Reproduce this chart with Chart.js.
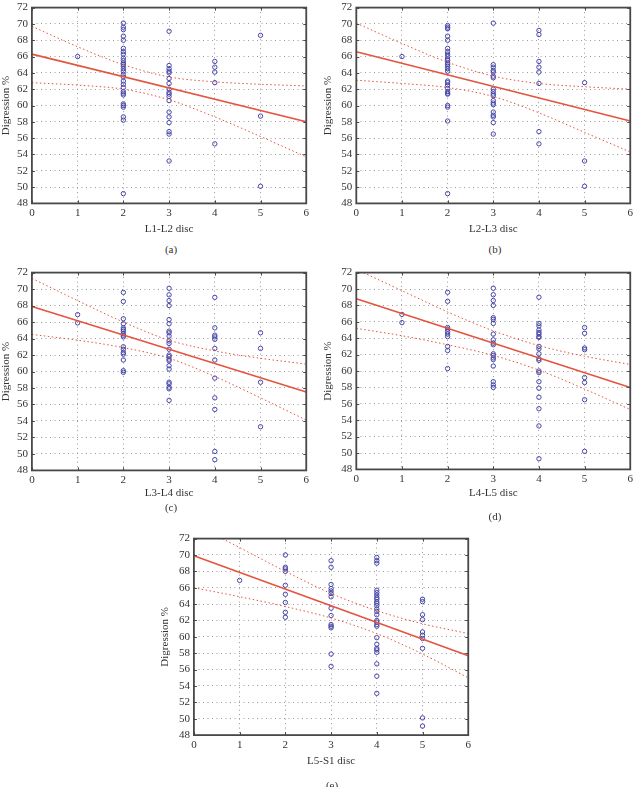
<!DOCTYPE html>
<html>
<head>
<meta charset="utf-8">
<script src="https://cdn.jsdelivr.net/npm/chart.js@4.4.0/dist/chart.umd.min.js"></script>
<style>
  body { margin: 0; background: #fff; width: 634px; height: 787px; overflow: hidden; position: relative; }
  canvas { position: absolute; }
  .cap { position: absolute; font: 11px "Liberation Serif", serif; color: #333; transform: translate(-50%, -50%); }
</style>
</head>
<body>
<script>
// axis ticks
const gradeTicks = [0, 1, 2, 3, 4, 5, 6];
const digressionTicks = [48, 50, 52, 54, 56, 58, 60, 62, 64, 66, 68, 70, 72];

// digression % per degeneration grade (index = grade)
const l1l2ByGrade = [
  [],
  [66.0],
  [70.1, 69.6, 69.3, 68.5, 68.0, 67.0, 66.6, 66.3, 65.8, 65.5, 65.2, 65.0, 64.8, 64.5, 64.2, 63.8, 63.5, 63.0, 62.6, 62.2, 61.7, 61.5, 61.3, 60.2, 60.0, 59.8, 58.6, 58.2, 49.2],
  [69.1, 64.9, 64.5, 64.2, 64.0, 63.3, 62.7, 62.0, 61.6, 61.4, 61.1, 60.6, 59.2, 58.6, 57.9, 56.8, 56.5, 53.2],
  [65.4, 64.7, 64.1, 62.8, 55.3],
  [68.6, 58.7, 50.1]
];
const l2l3ByGrade = [
  [],
  [66.0],
  [69.8, 69.6, 69.4, 68.5, 68.0, 67.0, 66.6, 66.3, 66.0, 65.7, 65.5, 65.2, 65.0, 64.8, 64.5, 64.2, 63.0, 62.8, 62.5, 62.1, 61.7, 61.5, 61.4, 60.0, 59.8, 58.1, 49.2],
  [70.1, 65.0, 64.7, 64.3, 64.1, 63.6, 63.4, 62.0, 61.7, 61.4, 61.2, 60.6, 60.3, 60.1, 59.2, 58.8, 58.6, 57.9, 56.5],
  [69.2, 68.7, 65.4, 64.7, 64.1, 62.7, 56.8, 55.3],
  [62.8, 53.2, 50.1]
];
const l3l4ByGrade = [
  [],
  [66.9, 65.9],
  [69.6, 68.5, 66.4, 65.8, 65.3, 65.1, 64.9, 64.6, 64.4, 64.2, 63.0, 62.7, 62.3, 62.1, 61.4, 60.1, 59.9],
  [70.1, 69.3, 68.6, 68.0, 66.3, 65.8, 64.9, 64.7, 64.3, 63.7, 63.4, 62.7, 62.0, 61.8, 61.5, 61.3, 60.7, 60.3, 58.7, 58.5, 58.1, 57.9, 56.5],
  [69.0, 65.3, 64.4, 64.2, 63.9, 62.8, 61.4, 59.2, 56.8, 55.4, 50.3, 49.3],
  [64.7, 62.8, 58.7, 53.3]
];
const l4l5ByGrade = [
  [],
  [66.9, 65.9],
  [69.6, 68.5, 65.3, 65.1, 64.8, 64.5, 64.2, 63.0, 62.5, 60.3],
  [70.1, 69.3, 68.6, 68.0, 66.5, 66.3, 65.8, 64.5, 63.8, 63.4, 63.2, 62.1, 61.9, 61.6, 61.4, 60.6, 58.7, 58.3, 58.0],
  [69.0, 65.8, 65.5, 65.0, 64.7, 64.5, 64.2, 64.1, 63.0, 62.7, 62.1, 61.5, 61.3, 60.0, 59.8, 58.7, 57.9, 56.8, 55.4, 53.3, 49.3],
  [65.3, 64.6, 62.8, 62.6, 59.2, 58.6, 56.5, 50.2]
];
const l5s1ByGrade = [
  [],
  [66.9],
  [70.0, 68.5, 68.3, 68.0, 66.3, 65.2, 64.2, 63.0, 62.4],
  [69.3, 68.5, 66.4, 65.9, 65.6, 65.3, 64.9, 63.5, 62.6, 61.5, 61.3, 61.1, 57.9, 56.4],
  [69.7, 69.3, 69.0, 65.7, 65.4, 65.1, 64.8, 64.6, 64.3, 64.1, 63.8, 63.4, 63.1, 62.7, 62.0, 61.8, 61.5, 61.3, 59.9, 59.1, 58.6, 58.4, 58.1, 56.7, 55.2, 53.1],
  [64.6, 64.3, 62.7, 62.1, 60.6, 60.2, 59.8, 58.6, 50.1, 49.1]
];

// regression line at grade 0 and 6, 95% bands read at grades 0..6
const l1l2Fit = [66.3, 58.0];
const l1l2Upper = [69.7, 67.2, 65.0, 63.5, 62.9, 62.6, 62.4];
const l1l2Lower = [62.8, 62.5, 62.0, 60.7, 58.6, 56.2, 53.7];
const l2l3Fit = [66.6, 58.1];
const l2l3Upper = [70.1, 67.6, 65.3, 63.6, 62.7, 62.3, 62.0];
const l2l3Lower = [63.1, 62.7, 62.2, 61.1, 59.1, 56.7, 54.3];
const l3l4Fit = [67.9, 57.5];
const l3l4Upper = [71.3, 68.6, 66.0, 63.8, 62.5, 61.6, 60.9];
const l3l4Lower = [64.5, 63.8, 62.9, 61.6, 59.4, 56.8, 54.1];
const l4l5Fit = [68.8, 58.0];
const l4l5Upper = [72.4, 69.8, 67.2, 64.9, 63.1, 61.8, 60.8];
const l4l5Lower = [65.2, 64.3, 63.2, 61.9, 60.1, 57.8, 55.3];
const l5s1Fit = [69.9, 57.7];
const l5s1Upper = [73.8, 70.9, 68.0, 65.3, 63.2, 61.6, 60.4];
const l5s1Lower = [66.0, 64.9, 63.7, 62.3, 60.4, 57.9, 55.0];

const discLabels = ["L1-L2 disc", "L2-L3 disc", "L3-L4 disc", "L4-L5 disc", "L5-S1 disc"];
const captions = ["(a)", "(b)", "(c)", "(d)", "(e)"];

// plot box placement of each panel in the page
const panels = [
  { L: 32.3, R: 307.3, T: 4.7, B: 203, yTitleX: 7, xTitleY: 229, capX: 171, capY: 249, byGrade: l1l2ByGrade, fit: l1l2Fit, upper: l1l2Upper, lower: l1l2Lower },
  { L: 356.7, R: 631, T: 4.7, B: 203, yTitleX: 329, xTitleY: 229, capX: 495, capY: 249, byGrade: l2l3ByGrade, fit: l2l3Fit, upper: l2l3Upper, lower: l2l3Lower },
  { L: 32.3, R: 307.3, T: 270, B: 470, yTitleX: 7, xTitleY: 493, capX: 171, capY: 507, byGrade: l3l4ByGrade, fit: l3l4Fit, upper: l3l4Upper, lower: l3l4Lower },
  { L: 356.7, R: 631, T: 270, B: 469, yTitleX: 329, xTitleY: 493, capX: 495, capY: 516, byGrade: l4l5ByGrade, fit: l4l5Fit, upper: l4l5Upper, lower: l4l5Lower },
  { L: 194.3, R: 469.3, T: 536, B: 734.7, yTitleX: 166, xTitleY: 761, capX: 332, capY: 785, byGrade: l5s1ByGrade, fit: l5s1Fit, upper: l5s1Upper, lower: l5s1Lower }
];

Chart.defaults.font.family = '"Liberation Serif", "Times New Roman", serif';
Chart.defaults.color = "#333";

const lineRed = "#e4543e";
const dotBlue = "#4646a8";

// box round the plot with short inward ticks, like the original
const frame = {
  id: "frame",
  afterDraw(chart) {
    const a = chart.chartArea, ctx = chart.ctx;
    const xs = chart.scales.x, ys = chart.scales.y;
    ctx.save();
    ctx.strokeStyle = "#484848";
    ctx.lineWidth = 1.8;
    ctx.strokeRect(a.left, a.top, a.right - a.left, a.bottom - a.top);
    ctx.lineWidth = 1;
    ctx.beginPath();
    gradeTicks.forEach(v => {
      const px = Math.round(xs.getPixelForValue(v)) + 0.5;
      ctx.moveTo(px, a.bottom); ctx.lineTo(px, a.bottom - 3);
      ctx.moveTo(px, a.top); ctx.lineTo(px, a.top + 3);
    });
    digressionTicks.forEach(v => {
      const py = Math.round(ys.getPixelForValue(v)) + 0.5;
      ctx.moveTo(a.left, py); ctx.lineTo(a.left + 3, py);
      ctx.moveTo(a.right, py); ctx.lineTo(a.right - 3, py);
    });
    ctx.stroke();
    ctx.restore();
  }
};

const padTop = 8, padRight = 5, titleHalf = 6.6, titlePad = 2;

panels.forEach((p, i) => {
  const left = p.yTitleX - titleHalf;
  const top = p.T - padTop;
  const yWidth = p.L - left;
  const xHeight = p.xTitleY - p.B + titleHalf + titlePad;
  const w = Math.round(p.R + padRight - left);
  const h = Math.round(padTop + (p.B - p.T) + xHeight);

  const cv = document.createElement("canvas");
  cv.width = w; cv.height = h;
  cv.style.left = left + "px"; cv.style.top = top + "px";
  cv.style.width = w + "px"; cv.style.height = h + "px";
  document.body.appendChild(cv);

  const cap = document.createElement("div");
  cap.className = "cap";
  cap.textContent = captions[i];
  cap.style.left = p.capX + "px"; cap.style.top = p.capY + "px";
  document.body.appendChild(cap);

  const points = [];
  p.byGrade.forEach((vals, g) => vals.forEach(v => points.push({ x: g, y: v })));

  new Chart(cv, {
    type: "scatter",
    data: {
      datasets: [
        {
          data: gradeTicks.map((g, k) => ({ x: g, y: p.upper[k] })),
          showLine: true, pointRadius: 0, borderColor: lineRed, borderWidth: 1,
          borderDash: [1.5, 2.5], cubicInterpolationMode: "monotone"
        },
        {
          data: gradeTicks.map((g, k) => ({ x: g, y: p.lower[k] })),
          showLine: true, pointRadius: 0, borderColor: lineRed, borderWidth: 1,
          borderDash: [1.5, 2.5], cubicInterpolationMode: "monotone"
        },
        {
          data: [{ x: gradeTicks[0], y: p.fit[0] }, { x: gradeTicks[6], y: p.fit[1] }],
          showLine: true, pointRadius: 0, borderColor: lineRed, borderWidth: 1.6
        },
        {
          data: points,
          pointRadius: 2.2, pointBorderWidth: 1, borderColor: dotBlue,
          backgroundColor: "rgba(255,255,255,0)"
        }
      ]
    },
    options: {
      responsive: false,
      animation: false,
      layout: { padding: { top: padTop, right: padRight, left: 0, bottom: 0 } },
      plugins: { legend: { display: false }, tooltip: { enabled: false } },
      scales: {
        x: {
          type: "linear", min: 0, max: 6,
          afterBuildTicks: s => { s.ticks = gradeTicks.map(v => ({ value: v })); },
          afterFit: s => { s.height = xHeight; },
          ticks: { padding: 3, font: { size: 11 } },
          grid: { color: "#9a9a9a", lineWidth: 1, drawTicks: false },
          border: { display: false, dash: [1, 3.5] },
          title: { display: true, text: discLabels[i], font: { size: 11 }, padding: { top: 4, bottom: titlePad } }
        },
        y: {
          min: 48, max: 72,
          afterBuildTicks: s => { s.ticks = digressionTicks.map(v => ({ value: v })); },
          afterFit: s => { s.width = yWidth; },
          ticks: { padding: 4, font: { size: 11 } },
          grid: { color: "#9a9a9a", lineWidth: 1, drawTicks: false },
          border: { display: false, dash: [1, 3.5] },
          title: { display: true, text: "Digression %", font: { size: 11 }, padding: { top: 0, bottom: 0 } }
        }
      }
    },
    plugins: [frame]
  });
});
</script>
</body>
</html>
